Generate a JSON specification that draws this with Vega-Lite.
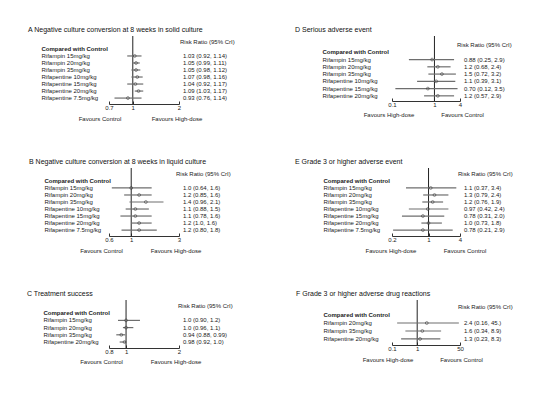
{
  "$schema": "https://vega.github.io/schema/vega-lite/v6.json",
  "padding": {"left": 27, "top": 25, "right": 0, "bottom": 0},
  "background": "white",
  "datasets": {
    "A": [
      {"label": "Rifampin 15mg/kg", "rr": 1.03, "lo": 0.92, "hi": 1.14, "txt": "1.03 (0.92, 1.14)"},
      {"label": "Rifampin 20mg/kg", "rr": 1.05, "lo": 0.99, "hi": 1.11, "txt": "1.05 (0.99, 1.11)"},
      {"label": "Rifampin 35mg/kg", "rr": 1.05, "lo": 0.98, "hi": 1.12, "txt": "1.05 (0.98, 1.12)"},
      {"label": "Rifapentine 10mg/kg", "rr": 1.07, "lo": 0.98, "hi": 1.16, "txt": "1.07 (0.98, 1.16)"},
      {"label": "Rifapentine 15mg/kg", "rr": 1.04, "lo": 0.92, "hi": 1.17, "txt": "1.04 (0.92, 1.17)"},
      {"label": "Rifapentine 20mg/kg", "rr": 1.09, "lo": 1.03, "hi": 1.17, "txt": "1.09 (1.03, 1.17)"},
      {"label": "Rifapentine 7.5mg/kg", "rr": 0.93, "lo": 0.76, "hi": 1.14, "txt": "0.93 (0.76, 1.14)"}
    ],
    "B": [
      {"label": "Rifampin 15mg/kg", "rr": 1.0, "lo": 0.64, "hi": 1.6, "txt": "1.0 (0.64, 1.6)"},
      {"label": "Rifampin 20mg/kg", "rr": 1.2, "lo": 0.85, "hi": 1.6, "txt": "1.2 (0.85, 1.6)"},
      {"label": "Rifampin 35mg/kg", "rr": 1.4, "lo": 0.96, "hi": 2.1, "txt": "1.4 (0.96, 2.1)"},
      {"label": "Rifapentine 10mg/kg", "rr": 1.1, "lo": 0.88, "hi": 1.5, "txt": "1.1 (0.88, 1.5)"},
      {"label": "Rifapentine 15mg/kg", "rr": 1.1, "lo": 0.78, "hi": 1.6, "txt": "1.1 (0.78, 1.6)"},
      {"label": "Rifapentine 20mg/kg", "rr": 1.2, "lo": 1.0, "hi": 1.6, "txt": "1.2 (1.0, 1.6)"},
      {"label": "Rifapentine 7.5mg/kg", "rr": 1.2, "lo": 0.8, "hi": 1.8, "txt": "1.2 (0.80, 1.8)"}
    ],
    "C": [
      {"label": "Rifampin 15mg/kg", "rr": 1.0, "lo": 0.9, "hi": 1.2, "txt": "1.0 (0.90, 1.2)"},
      {"label": "Rifampin 20mg/kg", "rr": 1.0, "lo": 0.96, "hi": 1.1, "txt": "1.0 (0.96, 1.1)"},
      {"label": "Rifampin 35mg/kg", "rr": 0.94, "lo": 0.88, "hi": 0.99, "txt": "0.94 (0.88, 0.99)"},
      {"label": "Rifapentine 20mg/kg", "rr": 0.98, "lo": 0.92, "hi": 1.0, "txt": "0.98 (0.92, 1.0)"}
    ],
    "D": [
      {"label": "Rifampin 15mg/kg", "rr": 0.88, "lo": 0.25, "hi": 2.9, "txt": "0.88 (0.25, 2.9)"},
      {"label": "Rifampin 20mg/kg", "rr": 1.2, "lo": 0.68, "hi": 2.4, "txt": "1.2 (0.68, 2.4)"},
      {"label": "Rifampin 35mg/kg", "rr": 1.5, "lo": 0.72, "hi": 3.2, "txt": "1.5 (0.72, 3.2)"},
      {"label": "Rifapentine 10mg/kg", "rr": 1.1, "lo": 0.39, "hi": 3.1, "txt": "1.1 (0.39, 3.1)"},
      {"label": "Rifapentine 15mg/kg", "rr": 0.7, "lo": 0.12, "hi": 3.5, "txt": "0.70 (0.12, 3.5)"},
      {"label": "Rifapentine 20mg/kg", "rr": 1.2, "lo": 0.57, "hi": 2.9, "txt": "1.2 (0.57, 2.9)"}
    ],
    "E": [
      {"label": "Rifampin 15mg/kg", "rr": 1.1, "lo": 0.37, "hi": 3.4, "txt": "1.1 (0.37, 3.4)"},
      {"label": "Rifampin 20mg/kg", "rr": 1.3, "lo": 0.79, "hi": 2.4, "txt": "1.3 (0.79, 2.4)"},
      {"label": "Rifampin 35mg/kg", "rr": 1.2, "lo": 0.76, "hi": 1.9, "txt": "1.2 (0.76, 1.9)"},
      {"label": "Rifapentine 10mg/kg", "rr": 0.97, "lo": 0.42, "hi": 2.4, "txt": "0.97 (0.42, 2.4)"},
      {"label": "Rifapentine 15mg/kg", "rr": 0.78, "lo": 0.31, "hi": 2.0, "txt": "0.78 (0.31, 2.0)"},
      {"label": "Rifapentine 20mg/kg", "rr": 1.0, "lo": 0.73, "hi": 1.8, "txt": "1.0 (0.73, 1.8)"},
      {"label": "Rifapentine 7.5mg/kg", "rr": 0.78, "lo": 0.21, "hi": 2.9, "txt": "0.78 (0.21, 2.9)"}
    ],
    "F": [
      {"label": "Rifampin 20mg/kg", "rr": 2.4, "lo": 0.16, "hi": 45, "txt": "2.4 (0.16, 45.)"},
      {"label": "Rifampin 35mg/kg", "rr": 1.6, "lo": 0.34, "hi": 8.9, "txt": "1.6 (0.34, 8.9)"},
      {"label": "Rifapentine 20mg/kg", "rr": 1.3, "lo": 0.23, "hi": 8.3, "txt": "1.3 (0.23, 8.3)"}
    ]
  },
  "vconcat": [
    {
      "spacing": 60,
      "hconcat": [
        {
          "width": 70, "height": 68,
          "title": {"text": "A Negative culture conversion at 8 weeks in solid culture", "dx": -13},
          "data": {"name": "A"},
          "layer": [
            {"data": {"values": [{}]}, "mark": {"type": "rule", "color": "#222", "strokeWidth": 1}, "encoding": {"x": {"datum": 1, "title": null}}},
            {"mark": {"type": "rule", "color": "#6e6e6e", "strokeWidth": 1.2},
             "encoding": {
               "x": {"field": "lo", "type": "quantitative", "title": null, "scale": {"type": "log", "domain": [0.7, 2], "nice": false}, "axis": {"values": [0.7, 1, 2], "format": "~g"}},
               "x2": {"field": "hi"},
               "y": {"field": "label", "type": "nominal", "title": null, "scale": {"domain": [" ", "Compared with Control", "Rifampin 15mg/kg", "Rifampin 20mg/kg", "Rifampin 35mg/kg", "Rifapentine 10mg/kg", "Rifapentine 15mg/kg", "Rifapentine 20mg/kg", "Rifapentine 7.5mg/kg"], "padding": 0.69, "align": 0.5},
                     "axis": {"labelPadding": 68, "labelFontWeight": {"condition": {"test": "datum.value === 'Compared with Control'", "value": "bold"}, "value": "normal"}}}
             }},
            {"mark": {"type": "point", "shape": "circle", "filled": false, "size": 8, "stroke": "#333", "strokeWidth": 0.8},
             "encoding": {"x": {"field": "rr", "type": "quantitative", "title": null}, "y": {"field": "label", "type": "nominal", "title": null}}},
            {"mark": {"type": "text", "align": "left", "dx": 4},
             "encoding": {"x": {"datum": 2, "title": null}, "y": {"field": "label", "type": "nominal", "title": null}, "text": {"field": "txt"}}},
            {"data": {"values": [{}]}, "mark": {"type": "text", "align": "left", "dx": 1},
             "encoding": {"x": {"datum": 2, "title": null}, "y": {"datum": " ", "title": null}, "text": {"value": "Risk Ratio (95% CrI)"}}},
            {"data": {"values": [{}]}, "mark": {"type": "text", "align": "center", "dy": 21},
             "encoding": {"x": {"datum": 0.612, "title": null}, "y": {"datum": "Rifapentine 7.5mg/kg", "title": null}, "text": {"value": "Favours Control"}}},
            {"data": {"values": [{}]}, "mark": {"type": "text", "align": "center", "dy": 21},
             "encoding": {"x": {"datum": 1.94, "title": null}, "y": {"datum": "Rifapentine 7.5mg/kg", "title": null}, "text": {"value": "Favours High-dose"}}}
          ]
        },
        {
          "width": 68, "height": 65,
          "title": {"text": "D Serious adverse event", "dx": -27},
          "data": {"name": "D"},
          "layer": [
            {"data": {"values": [{}]}, "mark": {"type": "rule", "color": "#222", "strokeWidth": 1}, "encoding": {"x": {"datum": 1, "title": null}}},
            {"mark": {"type": "rule", "color": "#6e6e6e", "strokeWidth": 1.2},
             "encoding": {
               "x": {"field": "lo", "type": "quantitative", "title": null, "scale": {"type": "log", "domain": [0.1, 4], "nice": false}, "axis": {"values": [0.1, 1, 4], "format": "~g"}},
               "x2": {"field": "hi"},
               "y": {"field": "label", "type": "nominal", "title": null, "scale": {"domain": [" ", "Compared with Control", "Rifampin 15mg/kg", "Rifampin 20mg/kg", "Rifampin 35mg/kg", "Rifapentine 10mg/kg", "Rifapentine 15mg/kg", "Rifapentine 20mg/kg"], "padding": 0.96, "align": 0.64},
                     "axis": {"labelPadding": 70, "labelFontWeight": {"condition": {"test": "datum.value === 'Compared with Control'", "value": "bold"}, "value": "normal"}}}
             }},
            {"mark": {"type": "point", "shape": "circle", "filled": false, "size": 8, "stroke": "#333", "strokeWidth": 0.8},
             "encoding": {"x": {"field": "rr", "type": "quantitative", "title": null}, "y": {"field": "label", "type": "nominal", "title": null}}},
            {"mark": {"type": "text", "align": "left", "dx": 4},
             "encoding": {"x": {"datum": 4, "title": null}, "y": {"field": "label", "type": "nominal", "title": null}, "text": {"field": "txt"}}},
            {"data": {"values": [{}]}, "mark": {"type": "text", "align": "left", "dx": -3},
             "encoding": {"x": {"datum": 4, "title": null}, "y": {"datum": " ", "title": null}, "text": {"value": "Risk Ratio (95% CrI)"}}},
            {"data": {"values": [{}]}, "mark": {"type": "text", "align": "center", "dy": 19},
             "encoding": {"x": {"datum": 0.085, "title": null}, "y": {"datum": "Rifapentine 20mg/kg", "title": null}, "text": {"value": "Favours High-dose"}}},
            {"data": {"values": [{}]}, "mark": {"type": "text", "align": "center", "dy": 19},
             "encoding": {"x": {"datum": 4.6, "title": null}, "y": {"datum": "Rifapentine 20mg/kg", "title": null}, "text": {"value": "Favours Control"}}}
          ]
        }
      ]
    },
    {
      "spacing": 64,
      "hconcat": [
        {
          "width": 70, "height": 68,
          "title": {"text": "B Negative culture conversion at 8 weeks in liquid culture", "dx": -15},
          "data": {"name": "B"},
          "layer": [
            {"data": {"values": [{}]}, "mark": {"type": "rule", "color": "#222", "strokeWidth": 1}, "encoding": {"x": {"datum": 1, "title": null}}},
            {"mark": {"type": "rule", "color": "#6e6e6e", "strokeWidth": 1.2},
             "encoding": {
               "x": {"field": "lo", "type": "quantitative", "title": null, "scale": {"type": "log", "domain": [0.6, 3], "nice": false}, "axis": {"values": [0.6, 1, 3], "format": "~g"}},
               "x2": {"field": "hi"},
               "y": {"field": "label", "type": "nominal", "title": null, "scale": {"domain": [" ", "Compared with Control", "Rifampin 15mg/kg", "Rifampin 20mg/kg", "Rifampin 35mg/kg", "Rifapentine 10mg/kg", "Rifapentine 15mg/kg", "Rifapentine 20mg/kg", "Rifapentine 7.5mg/kg"], "padding": 0.69, "align": 0.5},
                     "axis": {"labelPadding": 65, "labelFontWeight": {"condition": {"test": "datum.value === 'Compared with Control'", "value": "bold"}, "value": "normal"}}}
             }},
            {"mark": {"type": "point", "shape": "circle", "filled": false, "size": 8, "stroke": "#333", "strokeWidth": 0.8},
             "encoding": {"x": {"field": "rr", "type": "quantitative", "title": null}, "y": {"field": "label", "type": "nominal", "title": null}}},
            {"mark": {"type": "text", "align": "left", "dx": 4},
             "encoding": {"x": {"datum": 3, "title": null}, "y": {"field": "label", "type": "nominal", "title": null}, "text": {"field": "txt"}}},
            {"data": {"values": [{}]}, "mark": {"type": "text", "align": "left", "dx": -3},
             "encoding": {"x": {"datum": 3, "title": null}, "y": {"datum": " ", "title": null}, "text": {"value": "Risk Ratio (95% CrI)"}}},
            {"data": {"values": [{}]}, "mark": {"type": "text", "align": "center", "dy": 21},
             "encoding": {"x": {"datum": 0.505, "title": null}, "y": {"datum": "Rifapentine 7.5mg/kg", "title": null}, "text": {"value": "Favours Control"}}},
            {"data": {"values": [{}]}, "mark": {"type": "text", "align": "center", "dy": 21},
             "encoding": {"x": {"datum": 2.8, "title": null}, "y": {"datum": "Rifapentine 7.5mg/kg", "title": null}, "text": {"value": "Favours High-dose"}}}
          ]
        },
        {
          "width": 68, "height": 68,
          "title": {"text": "E Grade 3 or higher adverse event", "dx": -28},
          "data": {"name": "E"},
          "layer": [
            {"data": {"values": [{}]}, "mark": {"type": "rule", "color": "#222", "strokeWidth": 1}, "encoding": {"x": {"datum": 1, "title": null}}},
            {"mark": {"type": "rule", "color": "#6e6e6e", "strokeWidth": 1.2},
             "encoding": {
               "x": {"field": "lo", "type": "quantitative", "title": null, "scale": {"type": "log", "domain": [0.2, 4], "nice": false}, "axis": {"values": [0.2, 1, 4], "format": "~g"}},
               "x2": {"field": "hi"},
               "y": {"field": "label", "type": "nominal", "title": null, "scale": {"domain": [" ", "Compared with Control", "Rifampin 15mg/kg", "Rifampin 20mg/kg", "Rifampin 35mg/kg", "Rifapentine 10mg/kg", "Rifapentine 15mg/kg", "Rifapentine 20mg/kg", "Rifapentine 7.5mg/kg"], "padding": 0.69, "align": 0.5},
                     "axis": {"labelPadding": 69, "labelFontWeight": {"condition": {"test": "datum.value === 'Compared with Control'", "value": "bold"}, "value": "normal"}}}
             }},
            {"mark": {"type": "point", "shape": "circle", "filled": false, "size": 8, "stroke": "#333", "strokeWidth": 0.8},
             "encoding": {"x": {"field": "rr", "type": "quantitative", "title": null}, "y": {"field": "label", "type": "nominal", "title": null}}},
            {"mark": {"type": "text", "align": "left", "dx": 4},
             "encoding": {"x": {"datum": 4, "title": null}, "y": {"field": "label", "type": "nominal", "title": null}, "text": {"field": "txt"}}},
            {"data": {"values": [{}]}, "mark": {"type": "text", "align": "left", "dx": -2},
             "encoding": {"x": {"datum": 4, "title": null}, "y": {"datum": " ", "title": null}, "text": {"value": "Risk Ratio (95% CrI)"}}},
            {"data": {"values": [{}]}, "mark": {"type": "text", "align": "center", "dy": 21},
             "encoding": {"x": {"datum": 0.191, "title": null}, "y": {"datum": "Rifapentine 7.5mg/kg", "title": null}, "text": {"value": "Favours High-dose"}}},
            {"data": {"values": [{}]}, "mark": {"type": "text", "align": "center", "dy": 21},
             "encoding": {"x": {"datum": 4.98, "title": null}, "y": {"datum": "Rifapentine 7.5mg/kg", "title": null}, "text": {"value": "Favours Control"}}}
          ]
        }
      ]
    },
    {
      "spacing": 63,
      "hconcat": [
        {
          "width": 70, "height": 48,
          "title": {"text": "C Treatment success", "dx": -16},
          "data": {"name": "C"},
          "layer": [
            {"data": {"values": [{}]}, "mark": {"type": "rule", "color": "#222", "strokeWidth": 1}, "encoding": {"x": {"datum": 1, "title": null}}},
            {"mark": {"type": "rule", "color": "#6e6e6e", "strokeWidth": 1.2},
             "encoding": {
               "x": {"field": "lo", "type": "quantitative", "title": null, "scale": {"type": "log", "domain": [0.8, 2], "nice": false}, "axis": {"values": [0.8, 1, 2], "format": "~g"}},
               "x2": {"field": "hi"},
               "y": {"field": "label", "type": "nominal", "title": null, "scale": {"domain": [" ", "Compared with Control", "Rifampin 15mg/kg", "Rifampin 20mg/kg", "Rifampin 35mg/kg", "Rifapentine 20mg/kg"], "padding": 0.66, "align": 0.5},
                     "axis": {"labelPadding": 66, "labelFontWeight": {"condition": {"test": "datum.value === 'Compared with Control'", "value": "bold"}, "value": "normal"}}}
             }},
            {"mark": {"type": "point", "shape": "circle", "filled": false, "size": 8, "stroke": "#333", "strokeWidth": 0.8},
             "encoding": {"x": {"field": "rr", "type": "quantitative", "title": null}, "y": {"field": "label", "type": "nominal", "title": null}}},
            {"mark": {"type": "text", "align": "left", "dx": 4},
             "encoding": {"x": {"datum": 2, "title": null}, "y": {"field": "label", "type": "nominal", "title": null}, "text": {"field": "txt"}}},
            {"data": {"values": [{}]}, "mark": {"type": "text", "align": "left", "dx": -1},
             "encoding": {"x": {"datum": 2, "title": null}, "y": {"datum": " ", "title": null}, "text": {"value": "Risk Ratio (95% CrI)"}}},
            {"data": {"values": [{}]}, "mark": {"type": "text", "align": "center", "dy": 20},
             "encoding": {"x": {"datum": 0.725, "title": null}, "y": {"datum": "Rifapentine 20mg/kg", "title": null}, "text": {"value": "Favours Control"}}},
            {"data": {"values": [{}]}, "mark": {"type": "text", "align": "center", "dy": 20},
             "encoding": {"x": {"datum": 1.923, "title": null}, "y": {"datum": "Rifapentine 20mg/kg", "title": null}, "text": {"value": "Favours High-dose"}}}
          ]
        },
        {
          "width": 68, "height": 45,
          "title": {"text": "F Grade 3 or higher adverse drug reactions", "dx": -27},
          "data": {"name": "F"},
          "layer": [
            {"data": {"values": [{}]}, "mark": {"type": "rule", "color": "#222", "strokeWidth": 1}, "encoding": {"x": {"datum": 1, "title": null}}},
            {"mark": {"type": "rule", "color": "#6e6e6e", "strokeWidth": 1.2},
             "encoding": {
               "x": {"field": "lo", "type": "quantitative", "title": null, "scale": {"type": "log", "domain": [0.1, 50], "nice": false}, "axis": {"values": [0.1, 1, 50], "format": "~g"}},
               "x2": {"field": "hi"},
               "y": {"field": "label", "type": "nominal", "title": null, "scale": {"domain": [" ", "Compared with Control", "Rifampin 20mg/kg", "Rifampin 35mg/kg", "Rifapentine 20mg/kg"], "padding": 0.65, "align": 0.55},
                     "axis": {"labelPadding": 69, "labelFontWeight": {"condition": {"test": "datum.value === 'Compared with Control'", "value": "bold"}, "value": "normal"}}}
             }},
            {"mark": {"type": "point", "shape": "circle", "filled": false, "size": 8, "stroke": "#333", "strokeWidth": 0.8},
             "encoding": {"x": {"field": "rr", "type": "quantitative", "title": null}, "y": {"field": "label", "type": "nominal", "title": null}}},
            {"mark": {"type": "text", "align": "left", "dx": 4},
             "encoding": {"x": {"datum": 50, "title": null}, "y": {"field": "label", "type": "nominal", "title": null}, "text": {"field": "txt"}}},
            {"data": {"values": [{}]}, "mark": {"type": "text", "align": "left", "dx": -2},
             "encoding": {"x": {"datum": 50, "title": null}, "y": {"datum": " ", "title": null}, "text": {"value": "Risk Ratio (95% CrI)"}}},
            {"data": {"values": [{}]}, "mark": {"type": "text", "align": "center", "dy": 21},
             "encoding": {"x": {"datum": 0.0694, "title": null}, "y": {"datum": "Rifapentine 20mg/kg", "title": null}, "text": {"value": "Favours High-dose"}}},
            {"data": {"values": [{}]}, "mark": {"type": "text", "align": "center", "dy": 21},
             "encoding": {"x": {"datum": 57.3, "title": null}, "y": {"datum": "Rifapentine 20mg/kg", "title": null}, "text": {"value": "Favours Control"}}}
          ]
        }
      ]
    }
  ],
  "spacing": 34,
  "config": {
    "font": "Liberation Sans",
    "view": {"stroke": null},
    "title": {"fontSize": 7, "fontWeight": "normal", "anchor": "start", "frame": "bounds", "color": "#111", "offset": 3},
    "text": {"fontSize": 6, "color": "#1a1a1a", "baseline": "middle"},
    "axis": {"labelFontSize": 6, "labelColor": "#1a1a1a", "grid": false, "domainColor": "#333", "tickColor": "#333", "labelFont": "Liberation Sans"},
    "axisY": {"domain": false, "ticks": false, "tickSize": 0, "labelAlign": "left", "labelLimit": 0, "labelBaseline": "middle"},
    "axisX": {"tickSize": -3, "labelPadding": 3, "domainWidth": 1, "labelFlush": false}
  }
}
